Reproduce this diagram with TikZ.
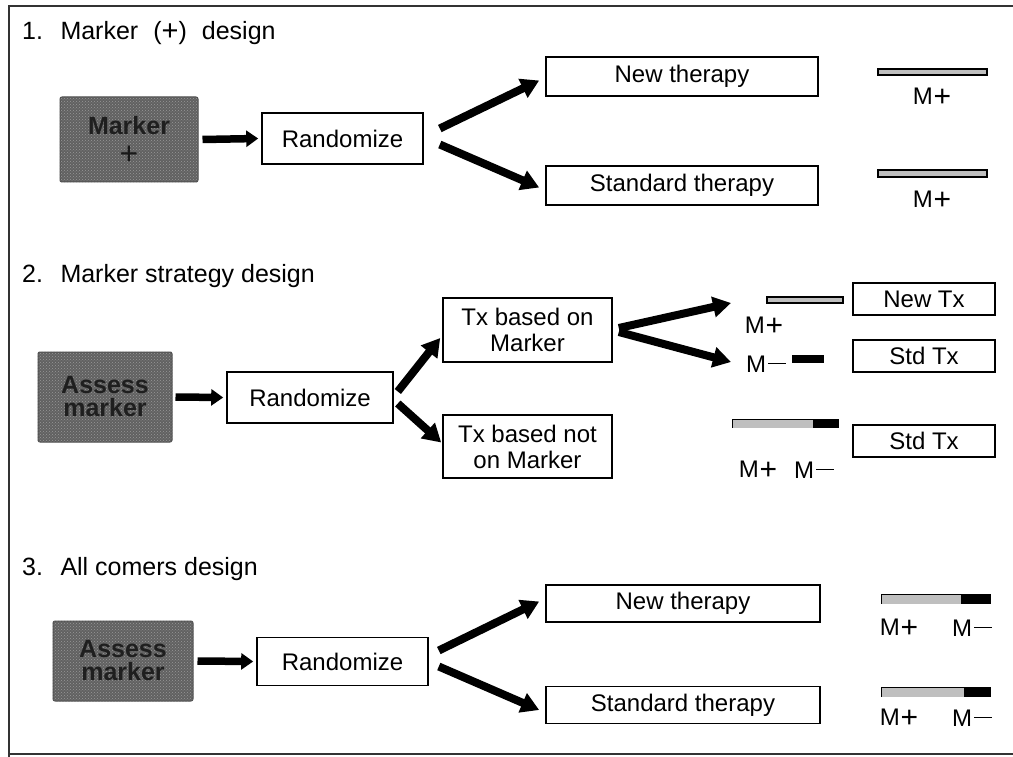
\documentclass[tikz,border=0pt]{standalone}
\usepackage{fontspec}
\setmainfont{Liberation Sans}
\usetikzlibrary{arrows.meta,calc,patterns}

% marker signs drawn with the font's plus and a rule for the minus
\newcommand{\mplus}{M\hspace{1pt}{\fontsize{30}{30}\selectfont\raisebox{-1.5pt}{+}}}
\newcommand{\mminus}{M\hspace{2pt}\rule[0.33em]{0.75em}{1.6pt}}

\tikzset{
  txt/.style={font=\fontsize{24}{26}\selectfont, inner sep=0pt},
  title/.style={inner sep=0pt, anchor=west, font=\fontsize{25}{27}\selectfont},
  box/.style={draw=black, line width=1.6pt, fill=white, txt, align=center},
  graybox/.style={draw=black!70, line width=1pt, fill=black!62, rounded corners=2pt,
    txt, align=center, text=black!88, font=\fontsize{25}{23}\selectfont\bfseries},
  grain/.style={pattern=crosshatch dots, pattern color=black!40},
  bigarrow/.style={line width=8pt, -{Triangle[length=18pt,width=20pt]}},
  smallarrow/.style={line width=7.5pt, -{Triangle[length=12pt,width=16pt]}},
  lightbar/.style={draw=black, line width=1.2pt, fill=black!25},
  darkbar/.style={draw=black, line width=1.2pt, fill=black},
  lab/.style={txt, font=\fontsize{24}{26}\selectfont},
}

\begin{document}
\begin{tikzpicture}[x=1pt,y=-1pt]
\useasboundingbox (0,0) rectangle (1013,757);

% outer frame (open on the right)
\draw[line width=1.5pt, black!80] (1013,6) -- (9,6) -- (9,757);
\draw[line width=1.5pt, black!80] (9,754) -- (1013,754);

% ---------------- 1. Marker (+) design ----------------
\node[title] (t1) at (22,33) {1.\hspace{0.7em}Marker\hspace{0.6em}({\fontsize{29}{29}\selectfont\raisebox{-1pt}{+}})\hspace{0.6em}design};

\node[graybox, minimum width=138pt, minimum height=85pt] (mk1) at (129,139.5) {};
\fill[grain, rounded corners=2pt] (mk1.north west) rectangle (mk1.south east);
\node[graybox, draw=none, fill=none] (mk1t) at ([yshift=14pt]mk1.center) {Marker};
\node[graybox, draw=none, fill=none, text=black!90, font=\fontsize{32}{32}\selectfont] (mk1p) at ([yshift=-16pt]mk1.center) {+};
\node[box, minimum width=161pt, minimum height=51pt] (rnd1) at (342.5,138.5) {Randomize};
\node[box, minimum width=272pt, minimum height=39pt] (new1) at (682,76.5) {New therapy};
\node[box, minimum width=272pt, minimum height=39pt] (std1) at (682,185.5) {Standard therapy};

\draw[smallarrow] ([xshift=4pt]mk1.east) -- ([xshift=-3pt]rnd1.west);
\draw[bigarrow] ([shift={(16,-10)}]rnd1.east) -- ([shift={(-6,4)}]new1.west);
\draw[bigarrow] ([shift={(16,6)}]rnd1.east) -- ([shift={(-6,2)}]std1.west);

\node[lightbar, minimum width=109pt, minimum height=6pt, inner sep=0pt] (b11) at (932.5,72) {};
\node[lab] (l11) at (932,97) {\mplus};
\node[lightbar, minimum width=109pt, minimum height=7pt, inner sep=0pt] (b12) at (932.5,173.5) {};
\node[lab] (l12) at (932,200) {\mplus};

% ---------------- 2. Marker strategy design ----------------
\node[title] (t2) at (22,276) {2.\hspace{0.7em}Marker strategy design};

\node[graybox, minimum width=134pt, minimum height=90pt] (am2) at (105,397) {};
\fill[grain, rounded corners=2pt] (am2.north west) rectangle (am2.south east);
\node[graybox, draw=none, fill=none] (am2t) at (am2) {Assess\\marker};
\node[box, minimum width=166pt, minimum height=51pt] (rnd2) at (310,397.5) {Randomize};
\node[box, minimum width=169pt, minimum height=64pt] (txm) at (527.5,330)
  {Tx based on\\Marker};
\node[box, minimum width=169pt, minimum height=63pt] (txn) at (527.5,446.5)
  {Tx based not\\on Marker};

\draw[smallarrow] ([xshift=3pt]am2.east) -- ([xshift=-3pt]rnd2.west);
\draw[bigarrow] ([shift={(4,-6)}]rnd2.east) -- ([shift={(-2,8)}]txm.west);
\draw[bigarrow] ([shift={(4,6)}]rnd2.east) -- ([shift={(-1,-4)}]txn.west);

\node[box, minimum width=142pt, minimum height=32pt] (ntx) at (924,299) {New Tx};
\node[box, minimum width=142pt, minimum height=32pt] (stx1) at (924,356) {Std Tx};
\node[box, minimum width=142pt, minimum height=32pt] (stx2) at (924,441) {Std Tx};

\coordinate (pup) at (731,303);
\coordinate (pdn) at (731,362);
\draw[bigarrow] ([shift={(6,-2)}]txm.east) -- (pup);
\draw[bigarrow] ([shift={(6,2)}]txm.east) -- (pdn);

\node[lightbar, minimum width=76pt, minimum height=6pt, inner sep=0pt] (b21) at (805,300) {};
\node[lab] (l21) at (764,326) {\mplus};
\node[lab] (l22) at (766,364) {\mminus};
\node[darkbar, minimum width=30pt, minimum height=6pt, inner sep=0pt] (b22) at (808,359) {};

\node[draw=black, line width=1.2pt, minimum width=105pt, minimum height=7pt, inner sep=0pt] (b23) at (785.5,423.5) {};
\fill[black!25] ([shift={(0.6,0.6)}]b23.north west) rectangle ([xshift=-26pt,yshift=-0.6pt]b23.south east);
\fill[black] ([xshift=-26pt]b23.north east) rectangle (b23.south east);
\node[lab] (l23) at (758,470) {\mplus};
\node[lab] (l24) at (814,470) {\mminus};

% ---------------- 3. All comers design ----------------
\node[title] (t3) at (22,569) {3.\hspace{0.7em}All comers design};

\node[graybox, minimum width=140pt, minimum height=80pt] (am3) at (123,661) {};
\fill[grain, rounded corners=2pt] (am3.north west) rectangle (am3.south east);
\node[graybox, draw=none, fill=none] (am3t) at (am3) {Assess\\marker};
\node[box, minimum width=171pt, minimum height=48pt] (rnd3) at (342.5,661.5) {Randomize};
\node[box, minimum width=274pt, minimum height=37pt] (new3) at (683,603.5) {New therapy};
\node[box, minimum width=274pt, minimum height=37pt] (std3) at (683,705) {Standard therapy};

\draw[smallarrow] ([xshift=4pt]am3.east) -- ([xshift=-3pt]rnd3.west);
\draw[bigarrow] ([shift={(10,-11)}]rnd3.east) -- ([shift={(-6,-2)}]new3.west);
\draw[bigarrow] ([shift={(10,5)}]rnd3.east) -- ([shift={(-6,5)}]std3.west);

\node[draw=black, line width=1.2pt, minimum width=108pt, minimum height=8pt, inner sep=0pt] (b31) at (936,599) {};
\fill[black!25] ([shift={(0.6,0.6)}]b31.north west) rectangle ([xshift=-30pt,yshift=-0.6pt]b31.south east);
\fill[black] ([xshift=-30pt]b31.north east) rectangle (b31.south east);
\node[lab] (l31) at (899,628) {\mplus};
\node[lab] (l32) at (972,628) {\mminus};

\node[draw=black, line width=1.2pt, minimum width=108pt, minimum height=8pt, inner sep=0pt] (b32) at (936,692) {};
\fill[black!25] ([shift={(0.6,0.6)}]b32.north west) rectangle ([xshift=-27pt,yshift=-0.6pt]b32.south east);
\fill[black] ([xshift=-27pt]b32.north east) rectangle (b32.south east);
\node[lab] (l33) at (899,718) {\mplus};
\node[lab] (l34) at (972,718) {\mminus};
\end{tikzpicture}
\end{document}
